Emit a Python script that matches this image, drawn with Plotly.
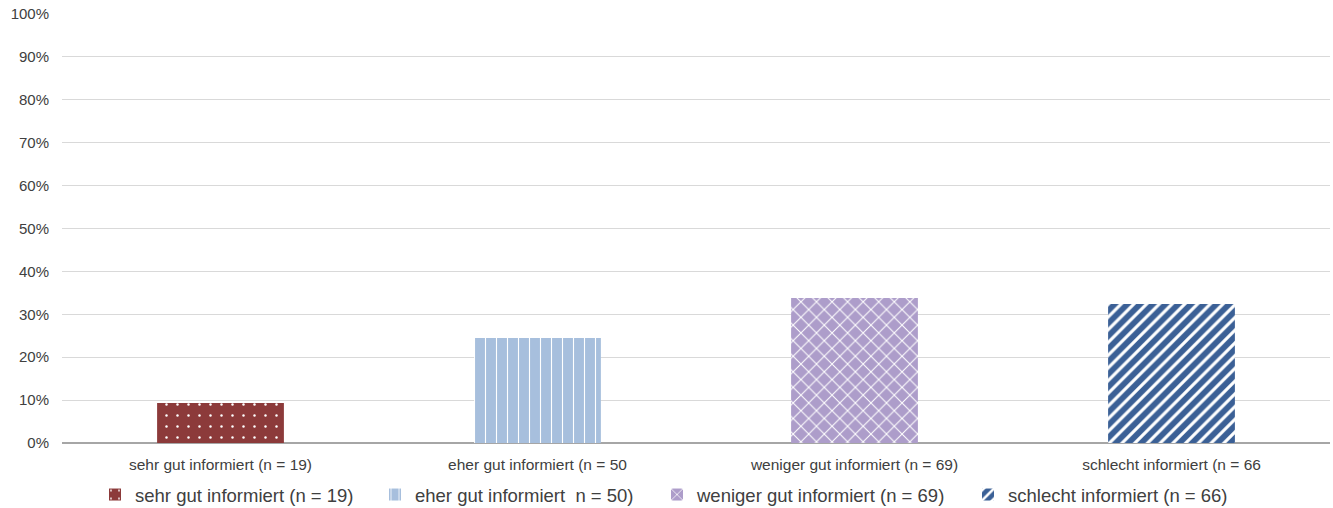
import plotly.graph_objects as go

# Share of respondents per self-assessed information level (%)
categories = [
    "sehr gut informiert (n = 19)",
    "eher gut informiert (n = 50",
    "weniger gut informiert (n = 69)",
    "schlecht informiert (n = 66",
]
legend_names = [
    "sehr gut informiert (n = 19)",
    "eher gut informiert  n = 50)",
    "weniger gut informiert (n = 69)",
    "schlecht informiert (n = 66)",
]
shares = [9.3, 24.5, 33.8, 32.4]
y_ticks = list(range(0, 101, 10))

colors = ["#8C3A3A", "#A7BFDD", "#AD9DCA", "#3B6096"]
shapes = [".", "|", "x", "/"]
pattern_sizes = [11, 11, 11, 9]
solidities = [0.04, 0.1, 0.18, 0.35]

# left edge of each legend entry's text, in pixels from the page's left
legend_text_x = [135, 415, 697, 1008]

W, H = 1333, 508
font_family = "Liberation Sans, Arial, sans-serif"

fig = go.Figure()
legend_layouts = {}
for i, (cat, name, val, col, shp, ps, sol) in enumerate(
    zip(categories, legend_names, shares, colors, shapes, pattern_sizes, solidities)
):
    legend_id = "legend" if i == 0 else f"legend{i + 1}"
    fig.add_trace(
        go.Bar(
            x=[cat],
            y=[val],
            name=name,
            width=0.4,
            legend=legend_id,
            marker=dict(
                color=col,
                line=dict(width=0),
                pattern=dict(
                    shape=shp,
                    fgcolor="white",
                    bgcolor=col,
                    size=ps,
                    solidity=sol,
                    fillmode="replace",
                ),
            ),
        )
    )
    legend_layouts[legend_id] = dict(
        orientation="h",
        x=(legend_text_x[i] - 40) / W,
        xanchor="left",
        xref="container",
        y=(H - 495) / H,
        yanchor="middle",
        yref="container",
        font=dict(size=18.5, color="#404040"),
        itemwidth=30,
        bgcolor="rgba(0,0,0,0)",
    )

fig.update_layout(
    width=W,
    height=H,
    margin=dict(l=62, r=3, t=14, b=65, autoexpand=False),
    barmode="overlay",
    plot_bgcolor="white",
    paper_bgcolor="white",
    font=dict(family=font_family, color="#404040", size=15),
    showlegend=True,
    xaxis=dict(
        categoryorder="array",
        categoryarray=categories,
        showgrid=False,
        tickfont=dict(size=15.5, color="#404040"),
        ticks="",
        showline=False,
        automargin=False,
        ticklabelstandoff=10,
    ),
    yaxis=dict(
        range=[0, 100],
        tickvals=y_ticks,
        ticktext=[f"{v}%" for v in y_ticks],
        showgrid=True,
        gridcolor="#D9D9D9",
        gridwidth=1,
        zeroline=True,
        zerolinecolor="#A6A6A6",
        zerolinewidth=1.5,
        tickfont=dict(size=15, color="#404040"),
        ticks="",
        showline=False,
        automargin=False,
        ticklabelstandoff=12,
    ),
    **legend_layouts,
)

fig.write_html("out.html")
